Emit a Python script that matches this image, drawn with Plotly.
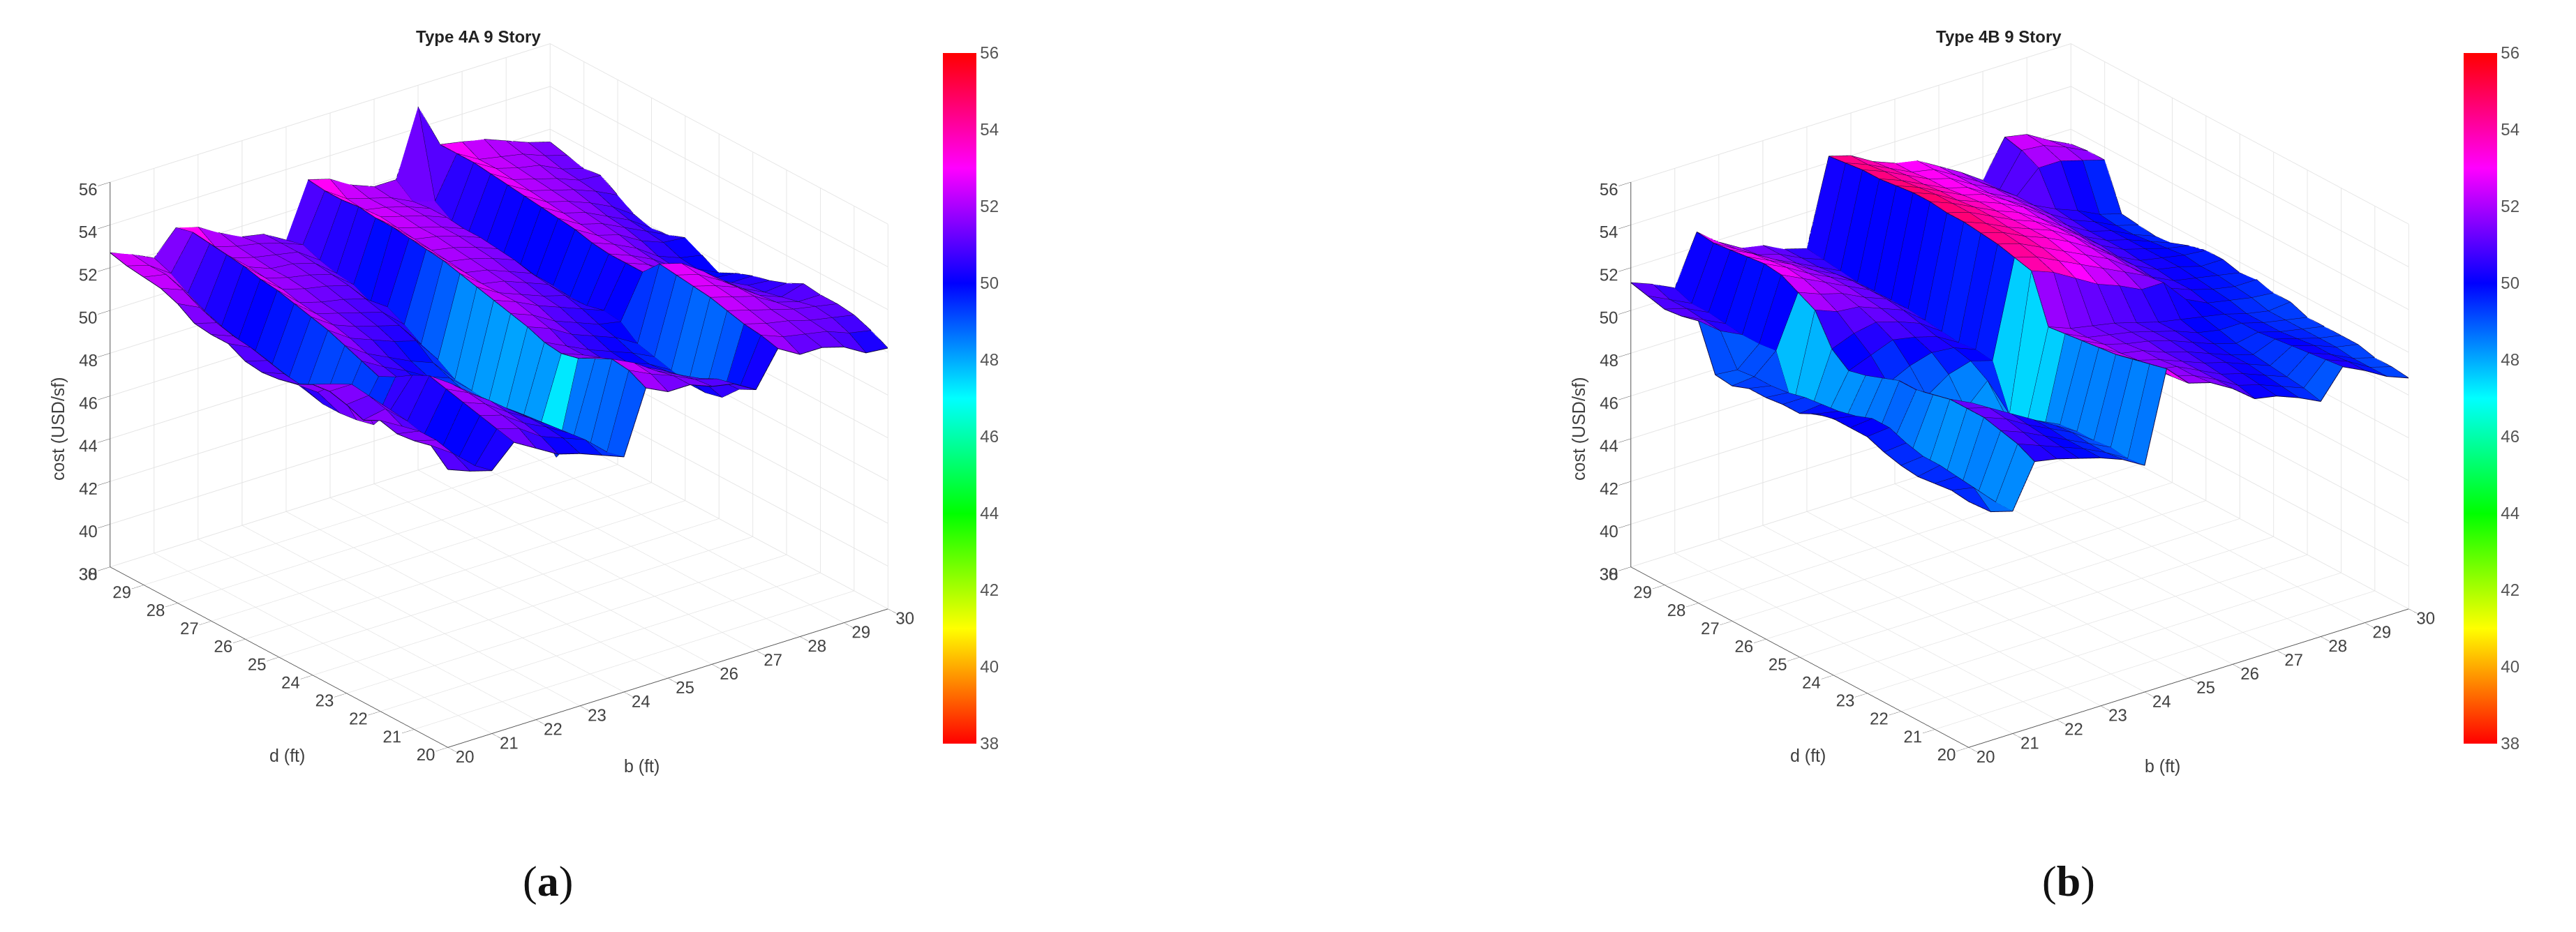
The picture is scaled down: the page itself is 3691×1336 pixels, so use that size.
import plotly.graph_objects as go

b_ft = [20 + 0.5 * n for n in range(21)]
d_ft = [20 + 0.5 * n for n in range(21)]

# one row per b value, each holding the cost for d = 20 ... 30
cost_a = [
    [51.0,51.7,51.5,51.4,51.6,51.2,51.5,51.7,51.6,51.2,51.0,50.9,51.0,51.4,51.4,51.5,52.0,52.3,52.4,52.5,52.7],
    [50.6,51.0,51.2,51.2,51.0,51.4,51.6,51.7,51.3,50.5,50.4,50.5,50.7,50.9,51.0,51.2,51.5,51.9,52.2,52.2,52.3],
    [50.3,50.1,50.0,50.0,50.3,50.5,50.6,49.5,49.3,49.2,49.2,49.4,49.6,49.8,50.0,50.1,50.3,50.6,51.0,51.5,51.8],
    [51.3,51.5,51.7,51.9,52.1,52.3,51.9,51.4,51.0,51.3,51.6,51.9,52.1,52.3,52.5,52.6,52.8,52.9,53.0,53.1,52.9],
    [50.7,51.2,51.4,51.5,51.6,51.6,51.2,50.8,50.5,50.7,50.9,51.2,51.4,51.5,51.6,51.8,51.9,52.0,52.0,52.1,52.6],
    [50.1,50.5,50.7,50.8,50.9,50.8,50.5,50.1,49.9,50.2,50.4,50.8,51.0,51.2,51.3,51.5,51.6,51.6,51.7,51.8,52.0],
    [49.8,50.1,50.2,50.2,50.1,50.0,49.7,49.5,49.4,49.6,49.9,50.4,50.7,50.9,51.1,51.3,51.4,51.5,51.5,51.6,51.5],
    [49.4,49.7,49.6,49.5,49.4,49.3,49.1,49.0,48.9,49.2,49.5,50.1,50.4,50.6,50.8,51.0,51.1,51.2,51.3,51.3,51.3],
    [49.0,48.8,48.7,48.6,47.3,48.2,48.2,48.1,48.2,48.3,48.4,48.9,49.2,49.7,50.1,49.9,50.3,50.4,50.6,50.9,50.7],
    [51.9,52.3,52.4,52.0,51.6,51.4,51.5,51.8,52.0,52.2,52.4,52.6,52.8,52.9,53.0,53.1,53.1,53.2,53.1,53.1,53.2],
    [51.4,51.8,51.9,51.6,51.3,51.0,51.0,51.4,51.6,51.8,51.8,51.8,51.9,52.0,52.1,52.2,52.3,52.4,52.3,52.4,52.9],
    [51.4,51.4,51.2,51.0,50.7,50.4,50.5,50.8,51.0,51.3,51.4,51.6,51.7,51.8,51.9,52.0,52.0,52.1,52.1,52.1,52.3],
    [51.0,50.9,50.7,50.5,50.2,50.0,50.1,50.4,50.6,50.9,51.0,51.2,51.3,51.5,51.6,51.7,51.7,51.8,51.8,51.8,51.9],
    [50.8,50.6,50.2,49.9,49.7,49.6,49.7,50.0,50.2,50.5,50.7,50.8,50.9,51.1,51.2,51.3,51.3,51.4,51.4,51.3,51.9],
    [50.2,49.8,49.0,48.8,48.8,49.0,49.2,49.4,50.0,50.1,49.9,49.9,50.0,50.0,50.0,50.1,50.2,50.4,50.5,51.0,55.0],
    [51.8,52.0,52.1,52.3,52.5,52.6,52.7,52.8,52.0,52.0,52.0,52.1,52.3,52.4,52.5,52.6,52.7,52.8,52.9,52.9,52.9],
    [51.2,51.6,51.8,52.0,52.2,52.3,52.4,52.5,51.6,51.6,51.6,51.7,51.7,51.8,51.9,52.0,52.1,52.2,52.3,52.3,52.7],
    [51.2,51.4,51.6,51.7,51.9,51.9,51.8,51.8,51.0,51.0,51.1,51.2,51.4,51.5,51.6,51.7,51.8,51.9,52.0,52.1,52.5],
    [50.9,51.2,51.3,51.4,51.3,51.2,51.1,51.0,50.5,50.4,50.4,50.5,50.8,51.0,51.1,51.3,51.5,51.6,51.8,51.9,52.1],
    [50.3,50.8,51.1,51.2,51.0,50.8,50.6,50.5,50.2,50.0,50.0,50.1,50.4,50.5,50.6,50.8,51.1,51.2,51.3,51.5,51.7],
    [50.2,50.6,50.9,51.0,51.0,51.1,50.7,50.4,50.2,49.9,49.5,49.9,50.3,50.0,49.9,50.1,50.6,51.1,51.0,51.2,51.4],
]

cost_b = [
    [49.5,49.6,49.5,49.4,49.5,49.7,50.0,50.0,50.0,49.8,49.4,49.4,49.3,49.3,49.0,49.1,51.2,51.0,50.9,51.1,51.3],
    [48.7,49.4,49.5,49.6,49.6,49.8,50.1,50.1,49.8,49.6,49.5,49.4,49.2,49.1,49.1,49.0,50.4,50.5,50.6,50.6,50.9],
    [48.4,48.4,48.5,48.4,48.3,48.4,48.6,48.8,48.6,48.5,48.3,48.2,47.9,47.8,50.0,49.9,49.9,50.0,50.1,50.1,50.4],
    [50.4,50.8,51.0,51.2,51.2,51.2,51.0,50.8,50.8,50.5,50.2,50.0,50.6,52.0,52.4,52.8,52.9,52.8,52.7,52.6,52.7],
    [50.2,50.4,50.6,50.8,50.9,50.7,49.0,48.8,48.8,49.0,49.5,50.4,51.0,51.6,52.0,52.3,52.4,52.3,52.2,52.0,51.9],
    [49.9,50.0,50.1,50.2,50.3,50.0,48.6,48.5,48.6,49.0,50.0,50.8,51.2,51.5,51.7,51.8,51.8,51.8,51.6,51.4,51.3],
    [49.6,49.6,49.6,49.7,49.7,49.4,48.3,48.3,48.5,49.7,50.3,50.6,50.9,51.1,51.2,51.3,51.3,51.2,51.1,51.1,51.1],
    [49.2,49.1,49.1,49.2,49.1,48.9,48.2,48.4,49.5,50.0,50.2,50.3,50.5,50.7,50.8,50.8,50.8,50.7,50.6,50.6,50.6],
    [48.6,48.5,48.6,48.5,48.5,48.4,47.6,47.5,47.6,49.7,49.8,49.7,49.8,49.9,50.0,50.0,50.0,50.0,50.1,50.2,50.3],
    [52.8,52.6,52.4,52.2,52.1,52.0,51.9,51.8,54.0,54.2,54.4,54.5,54.6,54.6,54.7,54.7,54.6,54.5,54.5,54.4,54.3],
    [51.8,51.7,51.6,51.6,51.5,51.5,51.4,51.4,53.6,53.9,54.1,54.2,54.2,54.3,54.3,54.3,54.2,54.1,54.1,54.0,54.0],
    [51.5,51.4,51.4,51.3,51.3,51.2,51.2,51.2,53.0,53.4,53.6,53.7,53.7,53.8,53.8,53.7,53.7,53.6,53.6,53.5,53.4],
    [50.9,50.9,50.9,50.9,50.9,51.0,51.0,51.0,52.4,52.9,53.1,53.3,53.3,53.3,53.3,53.3,53.2,53.1,53.1,53.0,53.0],
    [50.1,50.3,50.4,50.5,50.6,50.7,50.7,50.7,52.0,52.4,52.6,52.8,52.9,52.9,52.9,52.9,52.9,52.8,52.8,52.8,52.8],
    [49.9,50.0,50.1,50.2,50.2,50.3,50.4,50.4,51.5,51.9,52.1,52.2,52.3,52.3,52.3,52.4,52.3,52.2,52.2,52.2,52.2],
    [49.5,49.6,49.7,49.8,49.8,49.9,50.0,50.2,51.5,51.4,51.4,51.5,51.5,51.6,51.6,51.7,51.7,51.7,51.7,51.6,51.6],
    [49.0,49.2,49.3,49.4,49.5,49.6,49.8,50.0,50.4,50.5,50.6,50.7,50.7,50.8,50.8,50.9,51.0,51.0,51.0,50.9,50.9],
    [50.3,50.2,50.1,50.0,49.9,49.8,49.8,49.8,49.9,50.1,50.1,50.2,50.2,50.3,50.3,50.3,50.4,50.5,52.0,52.4,52.6],
    [49.8,49.8,49.7,49.7,49.6,49.5,49.5,49.5,49.7,49.8,49.9,50.0,50.0,50.0,50.0,50.0,50.0,50.1,52.0,52.3,52.4],
    [49.2,49.2,49.2,49.3,49.3,49.3,49.3,49.3,49.5,49.6,49.7,49.7,49.8,49.7,49.6,49.5,49.5,49.6,51.7,51.9,51.8],
    [48.8,48.9,48.9,49.1,49.1,49.1,49.1,49.4,49.4,49.6,49.5,49.7,49.7,49.5,49.2,49.1,49.2,49.3,51.4,51.4,51.3],
]

axis_ticks_xy = list(range(20, 31))
axis_ticks_z = list(range(38, 57, 2))
panel_titles = ["Type 4A 9 Story", "Type 4B 9 Story"]
panel_labels = ["a", "b"]
axis_labels = ["d (ft)", "b (ft)", "cost (USD/sf)"]

W, H = 3691, 1336
HSV = [[0, "#ff0000"], [1/6, "#ffff00"], [2/6, "#00ff00"], [0.5, "#00ffff"],
       [4/6, "#0000ff"], [5/6, "#ff00ff"], [1, "#ff0000"]]
PANEL_DX = 2179
ZOOM_EYE = 2.0


def mesh_and_edges(cost):
    nb, nd = len(b_ft), len(d_ft)
    vx, vy, vz = [], [], []
    for ib in range(nb):
        for jd in range(nd):
            vx.append(b_ft[ib]); vy.append(d_ft[jd]); vz.append(cost[ib][jd])
    ti, tj, tk, cell = [], [], [], []
    for ib in range(nb - 1):
        for jd in range(nd - 1):
            a = ib * nd + jd
            b = (ib + 1) * nd + jd
            c = (ib + 1) * nd + jd + 1
            d = ib * nd + jd + 1
            ti += [a, a]; tj += [b, c]; tk += [c, d]
            cell += [cost[ib][jd], cost[ib][jd]]
    ex, ey, ez = [], [], []
    for ib in range(nb):
        for jd in range(nd):
            ex.append(b_ft[ib]); ey.append(d_ft[jd]); ez.append(cost[ib][jd])
        ex.append(None); ey.append(None); ez.append(None)
    for jd in range(nd):
        for ib in range(nb):
            ex.append(b_ft[ib]); ey.append(d_ft[jd]); ez.append(cost[ib][jd])
        ex.append(None); ey.append(None); ez.append(None)
    return vx, vy, vz, ti, tj, tk, cell, ex, ey, ez


fig = go.Figure()
for n, cost in enumerate([cost_a, cost_b]):
    scene = "scene" if n == 0 else "scene2"
    vx, vy, vz, ti, tj, tk, cell, ex, ey, ez = mesh_and_edges(cost)
    fig.add_trace(go.Mesh3d(
        x=vx, y=vy, z=vz, i=ti, j=tj, k=tk, intensity=cell, intensitymode="cell",
        colorscale=HSV, cmin=38, cmax=56, flatshading=True, scene=scene,
        lighting=dict(ambient=1, diffuse=0, specular=0, roughness=1, fresnel=0),
        hoverinfo="skip",
        colorbar=dict(
            x=(1343 + n * PANEL_DX) / W, xanchor="left", xpad=0, ypad=0,
            y=1 - 563 / H, yanchor="middle", len=990 / H, lenmode="fraction",
            thickness=48, thicknessmode="pixels", outlinewidth=0,
            tickmode="array", tickvals=axis_ticks_z, ticks="",
            tickfont=dict(family="Liberation Sans", size=24, color="#555555"),
        ),
    ))
    fig.add_trace(go.Scatter3d(
        x=ex, y=ey, z=ez, mode="lines", scene=scene, hoverinfo="skip", showlegend=False,
        line=dict(color="#14083c", width=2),
    ))


def axis(ticks, rng):
    return dict(
        title=dict(text=""),
        range=rng, tickmode="array", tickvals=ticks, tickangle=0,
        tickfont=dict(family="Liberation Sans", size=17, color="#444444"),
        showbackground=False, showspikes=False, gridcolor="#e4e4e4", gridwidth=2,
        zeroline=False, showline=True, linecolor="#555555", linewidth=2,
        ticks="outside", ticklen=22, tickcolor="#555555", tickwidth=1,
    )


def scene_layout(dx):
    cx, cy = 707 + dx, 559
    half_w, half_h = 660, 540
    return dict(
        domain=dict(x=[(cx - half_w) / W, (cx + half_w) / W],
                    y=[1 - (cy + half_h) / H, 1 - (cy - half_h) / H]),
        aspectmode="manual", aspectratio=dict(x=1.472, y=1.472, z=1.12),
        xaxis=axis(axis_ticks_xy, [20, 30]),
        yaxis=axis(axis_ticks_xy, [20, 30]),
        zaxis=axis(axis_ticks_z, [38, 56]),
        camera=dict(
            projection=dict(type="orthographic"),
            up=dict(x=0, y=0, z=1), center=dict(x=0, y=0, z=0),
            eye=dict(x=-0.555 * ZOOM_EYE, y=-0.723 * ZOOM_EYE, z=0.41 * ZOOM_EYE),
        ),
    )


annotations = []
for n in range(2):
    dx = n * PANEL_DX
    annotations.append(dict(
        x=(677 + dx) / W, y=1 - 45 / H, xref="paper", yref="paper", showarrow=False,
        xanchor="center", yanchor="middle",
        text="<b>" + panel_titles[n] + "</b>", font=dict(family="Liberation Sans", size=24, color="#222222"),
    ))
    annotations.append(dict(
        x=(777 + dx) / W, y=1 - 1255 / H, xref="paper", yref="paper", showarrow=False,
        xanchor="center", yanchor="middle",
        text="(<b>" + panel_labels[n] + "</b>)", font=dict(family="Liberation Serif", size=62, color="#111111"),
    ))
    for text, px, py, angle in [(axis_labels[0], 403, 1075, 0), (axis_labels[1], 911, 1090, 0), (axis_labels[2], 75, 607, -90)]:
        annotations.append(dict(
            x=(px + dx) / W, y=1 - py / H, xref="paper", yref="paper", showarrow=False,
            xanchor="center", yanchor="middle", textangle=angle, text=text,
            font=dict(family="Liberation Sans", size=25, color="#404040"),
        ))

fig.update_layout(
    width=W, height=H, margin=dict(l=0, r=0, t=0, b=0), paper_bgcolor="white",
    showlegend=False, scene=scene_layout(0), scene2=scene_layout(PANEL_DX), annotations=annotations,
)
fig.write_html("out.html")
